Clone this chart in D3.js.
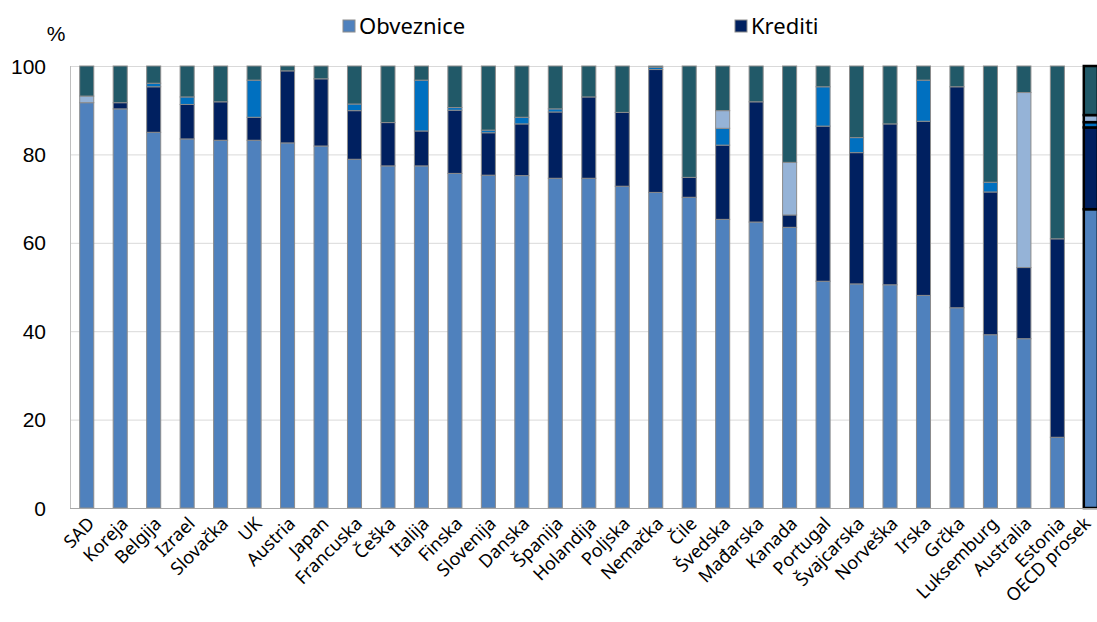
<!DOCTYPE html>
<html>
<head>
<meta charset="utf-8">
<script src="https://cdn.jsdelivr.net/npm/d3@7"></script>
<style>
  body { margin: 0; background: #fff; }
  svg { display: block; }
  .lbl { font-family: "Noto Sans", sans-serif; font-size: 18px; fill: #000; }
  .ytick { font-family: "Liberation Sans", sans-serif; font-size: 21px; fill: #000; }
</style>
</head>
<body>
<div id="chart"></div>
<script>
// --- data ---
const categories = ["SAD", "Koreja", "Belgija", "Izrael", "Slovačka", "UK", "Austria", "Japan", "Francuska", "Češka",
  "Italija", "Finska", "Slovenija", "Danska", "Španija", "Holandija", "Poljska", "Nemačka", "Čile", "Švedska",
  "Mađarska", "Kanada", "Portugal", "Švajcarska", "Norveška", "Irska", "Grčka", "Luksemburg", "Australia", "Estonia", "OECD prosek"];

const obveznice = [91.7, 90.3, 85.0, 83.5, 83.2, 83.2, 82.6, 81.9, 78.9, 77.4, 77.4, 75.7, 75.3, 75.2, 74.6, 74.6, 72.8, 71.4, 70.3, 65.3,
  64.7, 63.5, 51.3, 50.7, 50.5, 48.1, 45.3, 39.2, 38.3, 16.0, 67.6];
const krediti = [0, 1.4, 10.3, 7.8, 8.7, 5.2, 16.3, 15.2, 11.0, 9.8, 7.9, 14.3, 9.6, 11.7, 15.0, 18.4, 16.7, 27.8, 4.5, 16.8,
  27.2, 2.8, 35.1, 29.7, 36.4, 39.4, 50.0, 32.3, 16.1, 44.9, 18.5];
const serija3 = [0, 0, 0.8, 1.7, 0, 8.4, 0, 0, 1.5, 0, 11.5, 0.6, 0.6, 1.5, 0.7, 0, 0, 0.5, 0, 3.8,
  0, 0, 8.9, 3.4, 0, 9.3, 0, 2.2, 0, 0, 1.2];
const serija4 = [1.5, 0, 0, 0, 0, 0, 0, 0, 0, 0, 0, 0, 0, 0, 0, 0, 0, 0, 0, 4.0,
  0, 11.9, 0, 0, 0, 0, 0, 0, 39.6, 0, 1.6];
const serija5 = [6.8, 8.3, 3.9, 7.0, 8.1, 3.2, 1.1, 2.9, 8.6, 12.8, 3.2, 9.4, 14.5, 11.6, 9.7, 7.0, 10.5, 0.3, 25.2, 10.1,
  8.1, 21.8, 4.7, 16.2, 13.1, 3.2, 4.7, 26.3, 6.0, 39.1, 11.1];
const yTicks = [0, 20, 40, 60, 80, 100];

const keys = ["obveznice", "krediti", "serija3", "serija4", "serija5"];
const colors = ["#4f81bd", "#002060", "#0070c0", "#95b3d7", "#215968"];
const legendItems = [{ name: "Obveznice", color: colors[0], x: 343 }, { name: "Krediti", color: colors[1], x: 735 }];

const width = 1097, height = 622;
const rows = categories.map((c, i) => ({
  cat: c, obveznice: obveznice[i], krediti: krediti[i], serija3: serija3[i], serija4: serija4[i], serija5: serija5[i]
}));

const svg = d3.select("#chart").append("svg")
  .attr("width", width)
  .attr("height", height);

const x = d3.scaleBand()
  .domain(categories)
  .range([70, 70 + 31 * 33.47])
  .paddingInner(0.58)
  .paddingOuter(0.29);

const y = d3.scaleLinear().domain([0, 100]).range([508, 66]);

// gridlines
svg.append("g")
  .selectAll("line")
  .data(yTicks.filter(t => t > 0))
  .enter().append("line")
  .attr("x1", 70).attr("x2", width)
  .attr("y1", d => y(d) + 0.5).attr("y2", d => y(d) + 0.5)
  .attr("stroke", "#d9d9d9");

// y labels
svg.append("g")
  .selectAll("text")
  .data(yTicks)
  .enter().append("text")
  .attr("class", "ytick")
  .attr("x", 46)
  .attr("y", d => y(d))
  .attr("dy", "0.36em")
  .attr("text-anchor", "end")
  .text(d => d);

svg.append("text")
  .attr("class", "ytick")
  .attr("x", 56).attr("y", 41)
  .attr("text-anchor", "middle")
  .text("%");

// stacked bars
const series = d3.stack().keys(keys)(rows);

const layer = svg.append("g")
  .selectAll("g")
  .data(series)
  .enter().append("g")
  .attr("fill", (d, i) => colors[i]);

layer.selectAll("rect")
  .data(d => d.filter(s => s[1] - s[0] > 0))
  .enter().append("rect")
  .attr("x", d => x(d.data.cat))
  .attr("y", d => y(d[1]))
  .attr("width", x.bandwidth())
  .attr("height", d => y(d[0]) - y(d[1]))
  .attr("stroke", d => d.data.cat === "OECD prosek" ? "#000" : "#8c8c8c")
  .attr("stroke-width", d => d.data.cat === "OECD prosek" ? 2.5 : 1);

// axes lines
svg.append("line")
  .attr("x1", 70.5).attr("x2", 70.5)
  .attr("y1", y(100)).attr("y2", y(0))
  .attr("stroke", "#bfbfbf");
svg.append("line")
  .attr("x1", 70).attr("x2", width)
  .attr("y1", y(0) + 0.5).attr("y2", y(0) + 0.5)
  .attr("stroke", "#a6a6a6");

// category labels, rotated
svg.append("g")
  .selectAll("text")
  .data(categories)
  .enter().append("text")
  .attr("class", "lbl")
  .attr("text-anchor", "end")
  .attr("transform", d => `translate(${Math.min(x(d) + x.bandwidth() / 2 + 5, width - 9)},${521}) rotate(-45)`)
  .attr("dy", "0.3em")
  .text(d => d);

// legend
const leg = svg.append("g")
  .selectAll("g")
  .data(legendItems)
  .enter().append("g")
  .attr("transform", d => `translate(${d.x},20)`);
leg.append("rect")
  .attr("width", 12).attr("height", 12)
  .attr("fill", d => d.color)
  .attr("stroke", "#8c8c8c");
leg.append("text")
  .attr("class", "lbl")
  .style("font-size", "22px")
  .attr("x", 16).attr("y", 6)
  .attr("dy", "0.35em")
  .text(d => d.name);
</script>
</body>
</html>
